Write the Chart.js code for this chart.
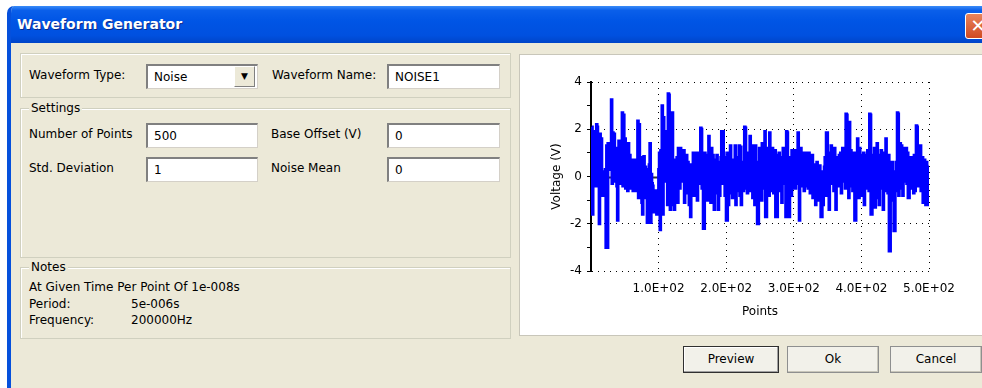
<!DOCTYPE html>
<html><head><meta charset="utf-8">
<script src="https://cdn.jsdelivr.net/npm/chart.js@4.4.1/dist/chart.umd.min.js"></script>
<style>
html,body{margin:0;padding:0;width:982px;height:388px;overflow:hidden;background:#fff;font-family:"DejaVu Sans",sans-serif;font-size:12px;color:#000}
#win{position:absolute;left:7px;top:6px;width:990px;height:400px;background:#ECE9D8;border-left:4px solid #0550DC;border-radius:7px 7px 0 0;overflow:hidden}
#title{position:absolute;left:0;top:0;right:0;height:37px;background:linear-gradient(#3A8CF8 0%,#0A5FEA 12%,#0055E5 40%,#0050DF 80%,#0045C8 100%);}
#title span{position:absolute;left:6px;top:10px;color:#fff;font-weight:bold;font-size:14px;text-shadow:1px 1px 0 #0A2A8A}
#close{position:absolute;left:954px;top:7px;width:24px;height:24px;background:linear-gradient(#E8845C,#D04A22);border:1px solid #fff;border-radius:3px;color:#fff;font-weight:bold;font-size:18px;line-height:23px;text-align:center}
.abs{position:absolute;white-space:nowrap}
.grp{position:absolute;border:1px solid #D0D0BF;box-shadow:1px 1px 0 #fff inset}
.glabel{position:absolute;background:#ECE9D8;padding:0 2px;top:-8px;left:8px;line-height:14px}
.tb{position:absolute;background:#fff;border:1px solid #7F9DB9;height:23px;line-height:23px;padding-left:6px;box-sizing:border-box;border-top:2px solid #808080;border-left:2px solid #808080;border-right:1px solid #D4D0C8;border-bottom:1px solid #D4D0C8}
.btn{position:absolute;height:27px;box-sizing:border-box;border:1px solid #8E8F8F;background:#F2F1EA;text-align:center;line-height:25px;box-shadow:inset -1px -1px 0 #C8C6BA}
#panel{position:absolute;left:519px;top:54px;width:470px;height:282px;background:#fff;border:1px solid #C8C6BA;box-sizing:border-box}
#cwrap{position:absolute;left:519px;top:55px;width:461px;height:281px}
</style></head><body>
<div id="win">
  <div id="title"><span>Waveform Generator</span><div id="close">✕</div></div>
</div>

<div class="grp" style="left:20px;top:53px;width:489px;height:43px"></div>
<div class="abs" style="left:29px;top:68px">Waveform Type:</div>
<div class="tb" style="left:146px;top:64px;width:112px;height:25px">Noise</div>
<div class="abs" style="left:234px;top:66px;width:21px;height:21px;background:#ECE9D8;border:1px solid #fff;border-right-color:#808080;border-bottom-color:#808080;box-sizing:border-box;text-align:center;font-size:9px;line-height:19px">▼</div>
<div class="abs" style="left:272px;top:68px">Waveform Name:</div>
<div class="tb" style="left:387px;top:64px;width:113px;height:25px">NOISE1</div>

<div class="grp" style="left:20px;top:108px;width:489px;height:148px"><div class="glabel">Settings</div></div>
<div class="abs" style="left:29px;top:127px">Number of Points</div>
<div class="tb" style="left:146px;top:123px;width:112px;height:25px">500</div>
<div class="abs" style="left:271px;top:127px">Base Offset (V)</div>
<div class="tb" style="left:387px;top:123px;width:113px;height:25px">0</div>
<div class="abs" style="left:29px;top:161px">Std. Deviation</div>
<div class="tb" style="left:146px;top:157px;width:112px;height:25px">1</div>
<div class="abs" style="left:271px;top:161px">Noise Mean</div>
<div class="tb" style="left:387px;top:157px;width:113px;height:25px">0</div>

<div class="grp" style="left:20px;top:267px;width:489px;height:70px"><div class="glabel">Notes</div></div>
<div class="abs" style="left:29px;top:280px">At Given Time Per Point Of 1e-008s</div>
<div class="abs" style="left:29px;top:297px">Period:</div>
<div class="abs" style="left:131px;top:297px">5e-006s</div>
<div class="abs" style="left:29px;top:313px">Frequency:</div>
<div class="abs" style="left:131px;top:313px">200000Hz</div>

<div id="panel"></div>
<div id="cwrap"><canvas id="c"></canvas></div>

<div class="btn" style="left:683px;top:346px;width:96px;border:1px solid #303030;box-shadow:inset -1px -1px 0 #A0A0A0, inset 1px 1px 0 #fff">Preview</div>
<div class="btn" style="left:787px;top:346px;width:92px">Ok</div>
<div class="btn" style="left:890px;top:346px;width:92px">Cancel</div>

<script>
const yAxisTitle = "Voltage (V)";
const xAxisTitle = "Points";
const xTickValues = [100, 200, 300, 400, 500];
const yTickLabelValues = [-4, -2, 0, 2, 4];
const voltage = [
 2.1,-1.6,0.6,1.9,-0.4,0.3,0.8,2.2,2.1,-0.4,1.0,-2.0,1.8,0.5,1.6,-0.8,0.2,-0.8,0.1,0.2,0.3,-3.0,1.3,-3.0,1.4,
 0.3,1.4,0.9,0.4,3.25,-0.3,1.85,0.6,1.8,-0.2,1.2,0.4,-0.4,-1.85,0.9,1.5,0.1,0.8,-0.3,0.5,2.7,-0.4,2.6,0.7,1.6,
 -0.5,1.2,0.3,-0.6,1.4,0.2,0.9,-0.5,0.7,0.1,0.7,-0.6,0.4,0.7,-0.3,0.2,-0.6,0.5,2.35,-0.9,2.2,0.3,-0.2,0.8,-1.1,
 -1.6,0.6,0.85,-0.7,0.4,-0.9,0.3,-1.95,0.2,-0.2,0.5,1.4,-1.95,0.1,-0.3,-0.4,-0.6,-1.5,-0.8,-1.2,-0.6,-1.6,-1.0,-1.5,0.3,
 1.0,-2.25,1.1,-1.6,3.0,-1.6,2.5,0.3,1.3,-0.2,0.8,1.9,-1.2,3.5,3.45,0.5,-1.4,1.2,2.7,2.7,-1.2,0.7,-1.4,0.4,0.1,
 -0.3,0.8,-1.1,1.2,0.2,-0.5,1.2,0.4,-0.2,0.5,0.7,1.1,-1.1,-0.4,0.3,0.9,-0.7,0.6,-0.5,-1.2,0.4,-1.7,0.5,0.3,-0.4,
 1.0,-0.8,0.3,0.6,-0.4,1.0,-1.0,0.2,1.0,-0.3,0.8,2.05,2.0,-0.5,0.9,-2.2,-2.2,1.0,0.2,-0.4,0.9,-1.0,0.3,1.7,-0.8,
 0.5,-1.1,1.2,0.1,0.9,-0.6,-1.4,0.7,0.3,-0.7,0.9,0.1,-1.4,0.6,-0.8,0.2,0.8,1.9,-0.3,1.9,1.0,0.8,-0.8,0.1,-1.85,
 -1.85,1.0,-1.2,0.7,-0.3,1.3,-0.7,0.4,-0.9,0.2,0.7,-0.4,1.3,-1.2,0.5,-0.6,0.8,-0.2,1.3,-0.8,1.25,-1.2,0.3,0.4,-0.6,
 0.6,2.1,2.05,-0.5,0.8,-0.7,0.3,1.0,-0.6,1.7,-0.2,0.8,1.3,-0.9,1.2,0.2,-1.2,1.3,0.4,-1.0,-2.0,-2.0,0.6,1.2,-0.7,
 0.4,-1.0,1.4,0.2,-0.5,0.9,1.9,-1.7,-1.7,0.6,0.3,1.2,-0.8,1.85,0.1,-0.6,0.8,1.2,0.3,-0.7,0.7,1.1,-1.7,0.4,-1.7,
 0.9,0.2,1.0,-0.6,0.6,0.8,-1.1,0.3,1.2,0.4,-0.3,0.8,-1.7,1.9,1.85,-0.3,-1.6,-1.7,0.2,0.8,-0.8,1.1,0.4,-0.5,0.9,
 1.1,-0.5,1.0,0.8,-0.2,1.85,-0.3,-1.85,0.7,1.2,0.3,-0.4,1.0,0.5,-0.6,0.9,1.0,-0.4,0.6,0.9,-0.5,1.0,0.2,-0.7,0.8,
 -0.4,0.9,-0.9,0.5,0.2,-0.6,-1.2,0.3,0.6,-0.9,0.1,-1.0,0.45,-0.8,-1.7,-1.7,0.2,-1.2,-0.6,0.4,0.8,-0.8,1.85,1.85,-0.3,
 1.0,-1.4,0.6,0.3,1.3,-0.3,0.7,0.9,-0.6,1.2,0.4,-1.4,0.8,0.1,0.6,-0.4,0.9,0.3,1.0,-0.7,0.5,1.2,-0.2,0.8,0.1,
 -0.5,2.65,2.6,0.2,1.4,-0.9,2.3,0.5,1.1,-0.4,0.8,-0.6,0.2,1.0,-1.85,-1.85,0.6,-0.6,1.6,0.3,-0.9,1.2,0.4,-0.3,0.9,
 -0.8,0.2,1.0,-1.2,0.6,0.1,0.9,-0.5,1.1,0.3,-0.6,2.65,2.6,-1.6,-1.6,0.9,0.6,-0.8,1.2,-1.3,0.5,0.3,1.4,-0.9,0.8,
 -1.2,0.9,0.2,1.1,-0.5,0.7,-1.4,0.3,1.0,-0.6,1.6,-0.2,0.5,-0.7,0.9,-3.15,-3.15,0.4,-1.0,0.6,0.2,-0.4,-2.3,-2.3,-0.6,
 0.6,-0.4,2.7,2.65,-0.8,1.4,1.4,-0.5,1.3,0.4,-0.8,1.2,-0.2,0.7,0.2,1.2,-0.3,1.0,-0.9,-0.9,0.6,0.3,0.8,-0.5,0.2,
 0.4,-0.7,0.9,-0.6,0.5,2.15,2.1,-0.4,0.7,-0.3,0.6,1.3,-0.6,0.3,0.8,-1.1,0.5,0.7,-0.5,-1.2,0.6,0.4,-1.2,0.2,-1.25
];
const pointIndex = voltage.map((_, i) => i + 1);

function sciLabel(v){
  const e = Math.floor(Math.log10(v));
  const m = (v / Math.pow(10, e)).toFixed(1);
  const es = (e < 0 ? '-' : '+') + String(Math.abs(e)).padStart(2, '0');
  return m + 'E' + es;
}

const zeroLine = {
  id: 'zeroLine',
  beforeDatasetsDraw(chart){
    const {ctx, chartArea:a, scales:{y}} = chart;
    const py = Math.round(y.getPixelForValue(0)) + 0.5;
    ctx.save(); ctx.strokeStyle = '#333'; ctx.lineWidth = 2;
    ctx.beginPath(); ctx.moveTo(a.left, py); ctx.lineTo(a.right, py); ctx.stroke(); ctx.restore();
  }
};

new Chart(document.getElementById('c'), {
  type: 'line',
  data: {
    labels: pointIndex,
    datasets: [{
      data: pointIndex.map((x, i) => ({x, y: voltage[i]})),
      borderColor: '#0000FF',
      borderWidth: 3,
      pointRadius: 0,
      stepped: true,
      tension: 0,
      fill: false
    }]
  },
  options: {
    responsive: true, maintainAspectRatio: false, animation: false,
    layout: { padding: { left: 0, top: 27, right: 51, bottom: 0 } },
    plugins: { legend: { display: false }, tooltip: { enabled: false } },
    scales: {
      x: {
        type: 'linear', min: 0, max: 500,
        afterFit(s){ s.height = 65; },
        afterBuildTicks(s){ s.ticks = [{value:0}].concat(xTickValues.map(v => ({value: v}))); },
        ticks: {
          color: '#000', font: { family: 'DejaVu Sans', size: 12 }, padding: 9, maxRotation: 0, autoSkip: false,
          callback: v => v === 0 ? '' : sciLabel(v)
        },
        grid: {
          color: c => c.tick && c.tick.value === 0 ? 'rgba(0,0,0,0)' : '#000',
          lineWidth: 1, drawTicks: true, tickLength: 2, tickColor: 'rgba(0,0,0,0)'
        },
        border: { display: false, dash: [1, 5] },
        title: { display: true, text: xAxisTitle, color: '#000', font: { family: 'DejaVu Sans', size: 12 }, padding: { top: 0, bottom: 17 } }
      },
      y: {
        type: 'linear', min: -4, max: 4,
        afterFit(s){ s.width = 72; },
        ticks: {
          stepSize: 1, color: '#000', font: { family: 'DejaVu Sans', size: 12 }, padding: 5,
          callback: v => yTickLabelValues.includes(v) ? String(v) : ''
        },
        grid: {
          color: c => (c.tick && (c.tick.value === 4 || c.tick.value === 2 || c.tick.value === -2 || c.tick.value === -4)) ? '#000' : 'rgba(0,0,0,0)',
          lineWidth: 1, drawTicks: true, tickLength: 4, tickColor: '#000', tickWidth: 1
        },
        border: { display: true, color: '#000', width: 2, dash: [1, 5] },
        title: { display: true, text: yAxisTitle, color: '#000', font: { family: 'DejaVu Sans', size: 12 }, padding: { top: 31, bottom: 0 } }
      }
    }
  },
  plugins: [zeroLine]
});
</script>
</body></html>
